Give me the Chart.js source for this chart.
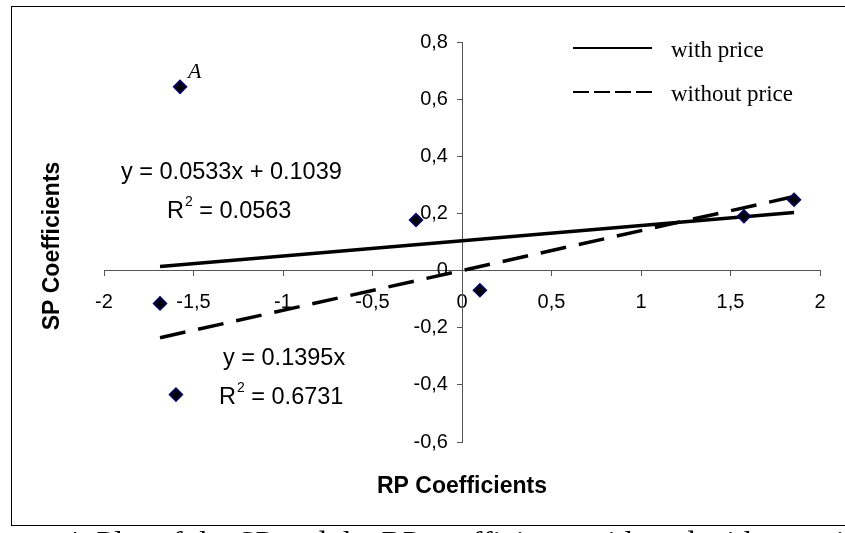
<!DOCTYPE html>
<html>
<head>
<meta charset="utf-8">
<script src="https://cdn.jsdelivr.net/npm/chart.js@4"></script>
<style>
  html, body { margin: 0; padding: 0; background: #fff; }
  #wrap { position: relative; width: 845px; height: 533px; overflow: hidden; }
  #frame { position: absolute; left: 11px; top: 6px; width: 900px; height: 518px; border: 1.5px solid #000; }
  #caption { position: absolute; left: -28px; top: 524px; white-space: nowrap;
    font: 32px "Liberation Serif", "Times New Roman", serif; color: #000; }
  canvas { position: absolute; left: 0; top: 0; }
</style>
</head>
<body>
<div id="wrap">
  <canvas id="c" width="845" height="533"></canvas>
  <div id="caption">Figure 4: Plot of the SP and the RP coefficients with and without price</div>
  <div id="frame"></div>
</div>
<script>
// Punten: RP-coëfficiënt (x) tegen SP-coëfficiënt (y)
const rpCoef = [-1.575, -1.687, -1.598, -0.257, 0.10, 1.575, 1.855];
const spCoef = [0.643, -0.115, -0.434, 0.177, -0.069, 0.19, 0.248];

const trendX = [-1.687, 1.855];
const trendWithPrice = [0.014, 0.203];
const trendWithoutPrice = [-0.235, 0.259];

const seriesNames = ['with price', 'without price'];
const eqWith = ['y = 0.0533x + 0.1039', '0.0563'];
const eqWithout = ['y = 0.1395x', '0.6731'];

const xTicks = [-2, -1.5, -1, -0.5, 0, 0.5, 1, 1.5, 2];
const yTicks = [-0.6, -0.4, -0.2, 0, 0.2, 0.4, 0.6, 0.8];

const toPts = (xs, ys) => xs.map((x, i) => ({ x, y: ys[i] }));
const comma = v => String(Number(v.toFixed(2))).replace('.', ',');

const SANS = '"Liberation Sans", Arial, sans-serif';
const SERIF = '"Liberation Serif", "Times New Roman", serif';

// R^2 met verhoogde 2
function drawR2(ctx, x, y, val) {
  ctx.font = '23.5px ' + SANS;
  ctx.fillText('R', x, y);
  let w = ctx.measureText('R').width;
  ctx.font = '14px ' + SANS;
  ctx.fillText('2', x + w + 1, y - 10);
  w += ctx.measureText('2').width + 1;
  ctx.font = '23.5px ' + SANS;
  ctx.fillText(' = ' + val, x + w, y);
}

const notes = {
  id: 'notes',
  afterDatasetsDraw(chart) {
    const { ctx, scales } = chart;
    ctx.save();
    ctx.fillStyle = '#000';
    ctx.textBaseline = 'middle';
    ctx.textAlign = 'left';

    ctx.font = '23.5px ' + SANS;
    ctx.fillText(eqWith[0], 121, 173);
    drawR2(ctx, 167, 212, eqWith[1]);
    ctx.font = '23.5px ' + SANS;
    ctx.fillText(eqWithout[0], 223, 359);
    drawR2(ctx, 219, 398, eqWithout[1]);

    // label punt A
    const ax = scales.x.getPixelForValue(rpCoef[0]);
    const ay = scales.y.getPixelForValue(spCoef[0]);
    ctx.font = 'italic 22px ' + SERIF;
    ctx.fillText('A', ax + 8, ay - 15);

    // legenda
    const ds = chart.data.datasets;
    [1, 2].forEach((k, i) => {
      const y = 48 + i * 44;
      ctx.beginPath();
      ctx.lineWidth = 2;
      ctx.strokeStyle = '#000';
      ctx.setLineDash(i ? [16, 5] : []);
      ctx.moveTo(573, y);
      ctx.lineTo(652, y);
      ctx.stroke();
      ctx.setLineDash([]);
      ctx.font = '23px ' + SERIF;
      ctx.fillText(ds[k].label, 671, y + 3);
    });

    // astitels
    ctx.font = 'bold 23px ' + SANS;
    ctx.textAlign = 'center';
    ctx.fillText('RP Coefficients', 462, 487);
    ctx.translate(53, 246);
    ctx.rotate(-Math.PI / 2);
    ctx.fillText('SP Coefficients', 0, 0);
    ctx.restore();
  }
};

const axisColor = '#555';

new Chart(document.getElementById('c'), {
  type: 'scatter',
  data: {
    datasets: [
      {
        label: 'coefficients',
        data: toPts(rpCoef, spCoef),
        pointStyle: 'rectRot',
        pointRadius: 6.5,
        pointBackgroundColor: '#000',
        pointBorderColor: '#000080',
        pointBorderWidth: 1.5,
        order: 0
      },
      {
        label: seriesNames[0],
        data: toPts(trendX, trendWithPrice),
        showLine: true,
        pointRadius: 0,
        borderColor: '#000',
        borderWidth: 3.5,
        order: 1
      },
      {
        label: seriesNames[1],
        data: toPts(trendX, trendWithoutPrice),
        showLine: true,
        pointRadius: 0,
        borderColor: '#000',
        borderWidth: 3.5,
        borderDash: [26, 13],
        order: 2
      }
    ]
  },
  options: {
    responsive: false,
    animation: false,
    events: [],
    layout: { padding: { left: 104, right: 25, top: 42, bottom: 91 } },
    plugins: { legend: { display: false }, tooltip: { enabled: false } },
    scales: {
      x: {
        type: 'linear',
        position: { y: 0 },
        min: -2, max: 2,
        afterBuildTicks: s => { s.ticks = xTicks.map(v => ({ value: v })); },
        grid: { drawOnChartArea: false, drawTicks: true, tickLength: 5, color: axisColor },
        border: { color: axisColor, width: 1 },
        ticks: {
          padding: 15, color: '#000', maxRotation: 0, autoSkip: false,
          font: { family: SANS, size: 20 },
          callback: v => comma(v)
        }
      },
      y: {
        type: 'linear',
        position: { x: 0 },
        min: -0.6, max: 0.8,
        afterBuildTicks: s => { s.ticks = yTicks.map(v => ({ value: v })); },
        grid: { drawOnChartArea: false, drawTicks: true, tickLength: 5, color: axisColor },
        border: { color: axisColor, width: 1 },
        ticks: {
          color: '#000', autoSkip: false,
          font: { family: SANS, size: 20 },
          // centrale as negeert padding, dus ruimte achter het label
          callback: v => comma(v) + '\u2002\u2009'
        }
      }
    }
  },
  plugins: [notes]
});
</script>
</body>
</html>
